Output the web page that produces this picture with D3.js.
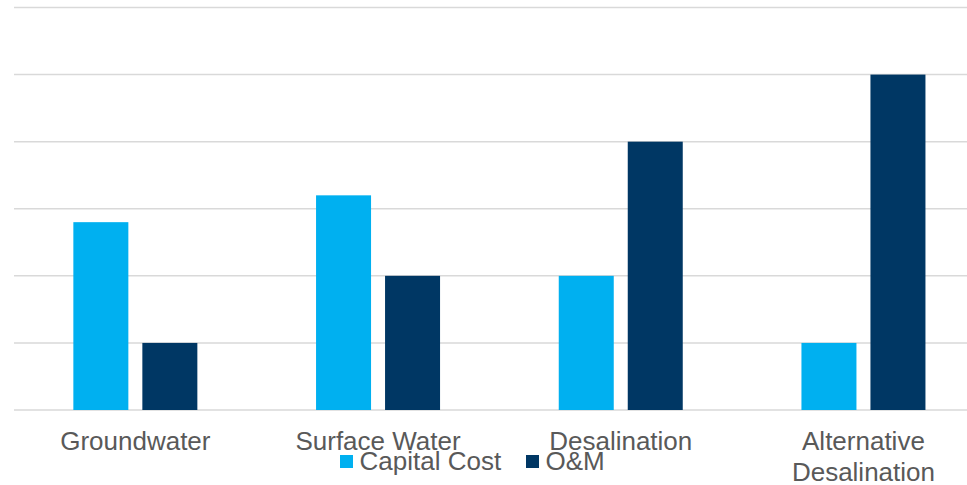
<!DOCTYPE html>
<html>
<head>
<meta charset="utf-8">
<script src="https://cdn.jsdelivr.net/npm/d3@7"></script>
<style>
  html, body { margin: 0; padding: 0; background: #fff; }
  svg { display: block; }
  text { font-family: "Liberation Sans", Arial, sans-serif; fill: #595959; }
</style>
</head>
<body>
<svg id="chart" width="967" height="485"></svg>
<script>
const categories = ["Groundwater", "Surface Water", "Desalination", "Alternative Desalination"];
const categoryLines = [["Groundwater"], ["Surface Water"], ["Desalination"], ["Alternative", "Desalination"]];
const seriesNames = ["Capital Cost", "O&M"];
const capitalCost = [2.8, 3.2, 2, 1];
const oAndM = [1, 2, 4, 5];
const yTicks = [0, 1, 2, 3, 4, 5, 6];
const colors = ["#00B0F0", "#003764"];

const seriesValues = [capitalCost, oAndM];
const data = categories.map((c, i) => ({
  category: c,
  lines: categoryLines[i],
  values: seriesNames.map((s, j) => ({ series: s, value: seriesValues[j][i], color: colors[j] }))
}));

const svg = d3.select("#chart");
const plotLeft = 14, plotRight = 984.8, plotTop = 7.5, plotBottom = 410;

const x = d3.scaleBand().domain(categories).range([plotLeft, plotRight]).paddingInner(0).paddingOuter(0);
const y = d3.scaleLinear().domain([0, 6]).range([plotBottom, plotTop]);
const groupWidth = 124;
const xs = d3.scaleBand().domain(seriesNames)
  .range([(x.bandwidth() - groupWidth) / 2, (x.bandwidth() + groupWidth) / 2])
  .paddingInner(14 / 69).paddingOuter(0);

// gridlines
svg.append("g").selectAll("line").data(yTicks).join("line")
  .attr("x1", plotLeft).attr("x2", 967)
  .attr("y1", d => y(d)).attr("y2", d => y(d))
  .attr("stroke", "#d9d9d9").attr("stroke-width", 1.5);

// bars
const groups = svg.append("g").selectAll("g").data(data).join("g")
  .attr("transform", d => `translate(${x(d.category)},0)`);
groups.selectAll("rect").data(d => d.values).join("rect")
  .attr("x", d => xs(d.series))
  .attr("width", xs.bandwidth())
  .attr("y", d => y(d.value))
  .attr("height", d => y(0) - y(d.value))
  .attr("fill", d => d.color);

// category labels
const labels = svg.append("g").selectAll("text").data(data).join("text")
  .attr("x", d => x(d.category) + x.bandwidth() / 2)
  .attr("y", 450)
  .attr("text-anchor", "middle")
  .style("font-size", "26px");
labels.selectAll("tspan").data(d => d.lines).join("tspan")
  .attr("x", function() { return d3.select(this.parentNode).attr("x"); })
  .attr("dy", (d, i) => i === 0 ? 0 : 30.5)
  .text(d => d);

// legend
const legendItems = [
  { name: seriesNames[0], color: colors[0], x: 340 },
  { name: seriesNames[1], color: colors[1], x: 526 }
];
const leg = svg.append("g").selectAll("g").data(legendItems).join("g")
  .attr("transform", d => `translate(${d.x},0)`);
leg.append("rect").attr("x", 0).attr("y", 455).attr("width", 13).attr("height", 13).attr("fill", d => d.color);
leg.append("text").attr("x", 19.5).attr("y", 469.5).style("font-size", "26px").text(d => d.name);
</script>
</body>
</html>
